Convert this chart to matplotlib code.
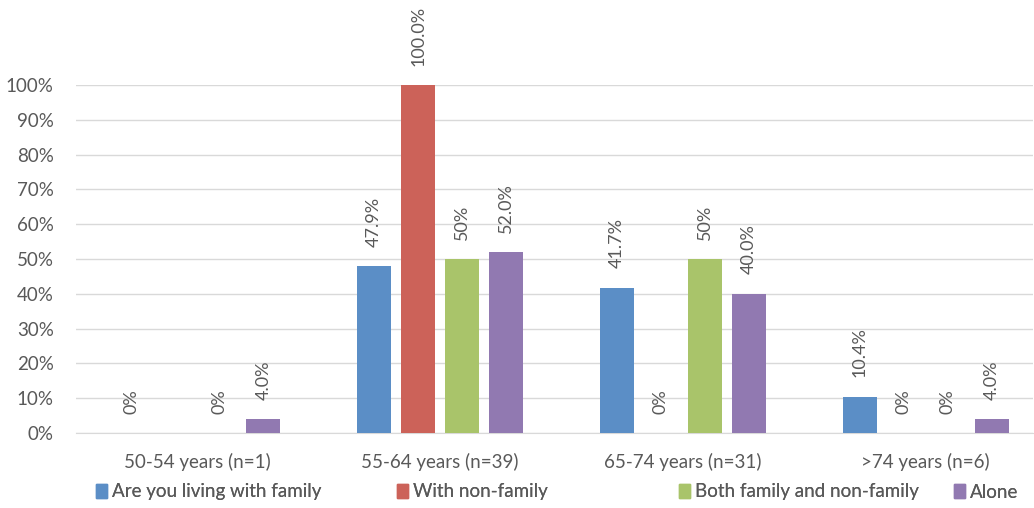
import numpy as np
import matplotlib.pyplot as plt
from matplotlib.patches import Patch

groups = ["50-54 years (n=1)", "55-64 years (n=39)", "65-74 years (n=31)", ">74 years (n=6)"]
series = ["Are you living with family", "With non-family", "Both family and non-family", "Alone"]

family = [0.0, 47.9, 41.7, 10.4]
non_family = [0.0, 100.0, 0.0, 0.0]
both = [0.0, 50.0, 50.0, 0.0]
alone = [4.0, 52.0, 40.0, 4.0]

family_lbl = ["0%", "47.9%", "41.7%", "10.4%"]
non_family_lbl = ["", "100.0%", "0%", "0%"]
both_lbl = ["0%", "50%", "50%", "0%"]
alone_lbl = ["4.0%", "52.0%", "40.0%", "4.0%"]

colors = ["#5B8EC6", "#CC6259", "#A9C46A", "#9179B1"]
txt = "#595959"

plt.rcParams['font.family'] = ['Lato', 'DejaVu Sans']

fig = plt.figure(figsize=(10.34, 5.08), dpi=100)
ax = fig.add_axes([76 / 1034, 1 - 433 / 508, (1033 - 76) / 1034, (433 - 85) / 508])

x = np.arange(len(groups))
step = 0.181
width = 0.14
data = [family, non_family, both, alone]
labels = [family_lbl, non_family_lbl, both_lbl, alone_lbl]

for i, (vals, lbls) in enumerate(zip(data, labels)):
    pos = x + (i - 1.5) * step
    ax.bar(pos, vals, width, color=colors[i], label=series[i], zorder=3)
    for px, v, l in zip(pos, vals, lbls):
        if l:
            ax.annotate(l, (px, v), xytext=(0, 14), textcoords="offset points",
                        rotation=90, ha="center", va="bottom", fontsize=13,
                        color=txt, annotation_clip=False)

ax.set_xlim(-0.5, 3.5 - 14 / 242.75)
ax.set_ylim(0, 100)
ax.set_yticks(np.arange(0, 101, 10))
ax.set_yticklabels([f"{v}%" for v in range(0, 101, 10)])
ax.set_xticks(x)
ax.set_xticklabels(groups)
ax.grid(axis="y", color="#D9D9D9", linewidth=1, zorder=0)
for s in ["top", "right", "left"]:
    ax.spines[s].set_visible(False)
ax.spines["bottom"].set_color("#D9D9D9")
ax.tick_params(axis="both", length=0, labelsize=13.5, colors=txt)
ax.tick_params(axis="x", pad=14)
ax.tick_params(axis="y", pad=16)

# legend entries placed one by one, evenly spread under the axis
leg_x = [96, 397, 679, 954]
for i in range(4):
    lg = fig.legend(handles=[Patch(color=colors[i])], labels=[series[i]],
                    loc="center left", bbox_to_anchor=(leg_x[i] / 1034, 1 - 492 / 508),
                    frameon=False, fontsize=13.5, handlelength=0.6, handleheight=0.75,
                    handletextpad=0.25, labelcolor=txt, borderaxespad=0, borderpad=0)
    fig.add_artist(lg)

fig.savefig("out.png", dpi=100)
